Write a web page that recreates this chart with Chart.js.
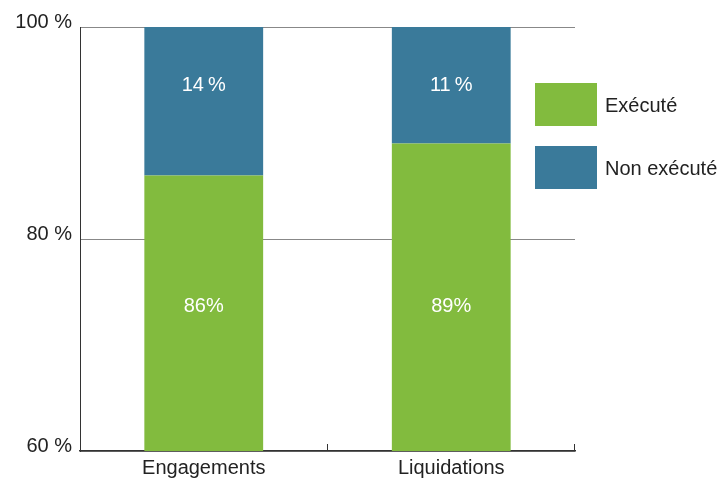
<!DOCTYPE html>
<html>
<head>
<meta charset="utf-8">
<script src="https://cdn.jsdelivr.net/npm/chart.js@4"></script>
<style>
  html, body { margin: 0; padding: 0; background: #fff; }
  #wrap { width: 718px; height: 478px; }
</style>
</head>
<body>
<div id="wrap"><canvas id="chart" width="718" height="478"></canvas></div>
<script>
// Data
const categories = ['Engagements', 'Liquidations'];
const executed = [86, 89];
const notExecuted = [14, 11];
const seriesLabels = ['Exécuté', 'Non exécuté'];
const yTicks = [60, 80, 100];

const GREEN = '#82bb3e';
const BLUE = '#3a7a9a';
const FONT = "'Liberation Sans', Arial, sans-serif";

// Value labels sit at fixed heights in the reference
const labelLevels = [73.6, 94.5];

const valueLabels = {
    id: 'valueLabels',
    afterDatasetsDraw(chart) {
        const ctx = chart.ctx;
        const y = chart.scales.y;
        ctx.save();
        ctx.fillStyle = '#fff';
        ctx.font = '20px ' + FONT;
        ctx.textAlign = 'center';
        ctx.textBaseline = 'middle';
        chart.data.datasets.forEach((ds, di) => {
            chart.getDatasetMeta(di).data.forEach((bar, i) => {
                const txt = di === 0 ? ds.data[i] + '%' : ds.data[i] + '\u2009%';
                ctx.fillText(txt, bar.x, y.getPixelForValue(labelLevels[di]));
            });
        });
        ctx.restore();
    }
};

// Category separator ticks and legend on the right
const extras = {
    id: 'extras',
    afterDraw(chart) {
        const ctx = chart.ctx;
        const area = chart.chartArea;
        const x = chart.scales.x;
        ctx.save();
        ctx.strokeStyle = '#333';
        ctx.lineWidth = 1;
        const step = x.width / categories.length;
        for (let i = 1; i <= categories.length; i++) {
            const px = Math.round(x.left + step * i) - 0.5;
            ctx.beginPath();
            ctx.moveTo(px, area.bottom);
            ctx.lineTo(px, area.bottom - 7);
            ctx.stroke();
        }

        // legend
        ctx.font = '20px ' + FONT;
        ctx.textBaseline = 'middle';
        ctx.textAlign = 'left';
        const bx = area.right - 40;
        let by = 83;
        chart.data.datasets.forEach(ds => {
            ctx.fillStyle = ds.backgroundColor;
            ctx.fillRect(bx, by, 62, 43);
            ctx.fillStyle = '#222';
            ctx.fillText(ds.label, bx + 70, by + 23);
            by += 63;
        });
        ctx.restore();
    }
};

new Chart(document.getElementById('chart'), {
    type: 'bar',
    data: {
        labels: categories,
        datasets: [{
            label: seriesLabels[0],
            data: executed,
            backgroundColor: GREEN,
            categoryPercentage: 1,
            barPercentage: 0.48
        }, {
            label: seriesLabels[1],
            data: notExecuted,
            backgroundColor: BLUE,
            categoryPercentage: 1,
            barPercentage: 0.48
        }]
    },
    options: {
        responsive: false,
        animation: false,
        layout: { padding: { left: 0, right: 143, top: 27, bottom: 0 } },
        plugins: {
            legend: { display: false },
            tooltip: { enabled: false }
        },
        scales: {
            x: {
                stacked: true,
                grid: { display: false, drawTicks: false },
                border: { color: '#333', width: 1.5 },
                ticks: { color: '#222', font: { family: FONT, size: 20 }, padding: 5 },
                afterFit(scale) { scale.height = 27; }
            },
            y: {
                stacked: true,
                min: yTicks[0],
                max: yTicks[yTicks.length - 1],
                afterBuildTicks(axis) {
                    axis.ticks = yTicks.map(v => ({ value: v }));
                },
                grid: { color: '#888', lineWidth: 1, drawTicks: false },
                border: { color: '#333', width: 1 },
                ticks: {
                    color: '#222',
                    font: { family: FONT, size: 20 },
                    padding: 8,
                    labelOffset: -5,
                    callback: v => v + ' %'
                },
                afterFit(scale) { scale.width = 80; }
            }
        }
    },
    plugins: [valueLabels, extras]
});
</script>
</body>
</html>
